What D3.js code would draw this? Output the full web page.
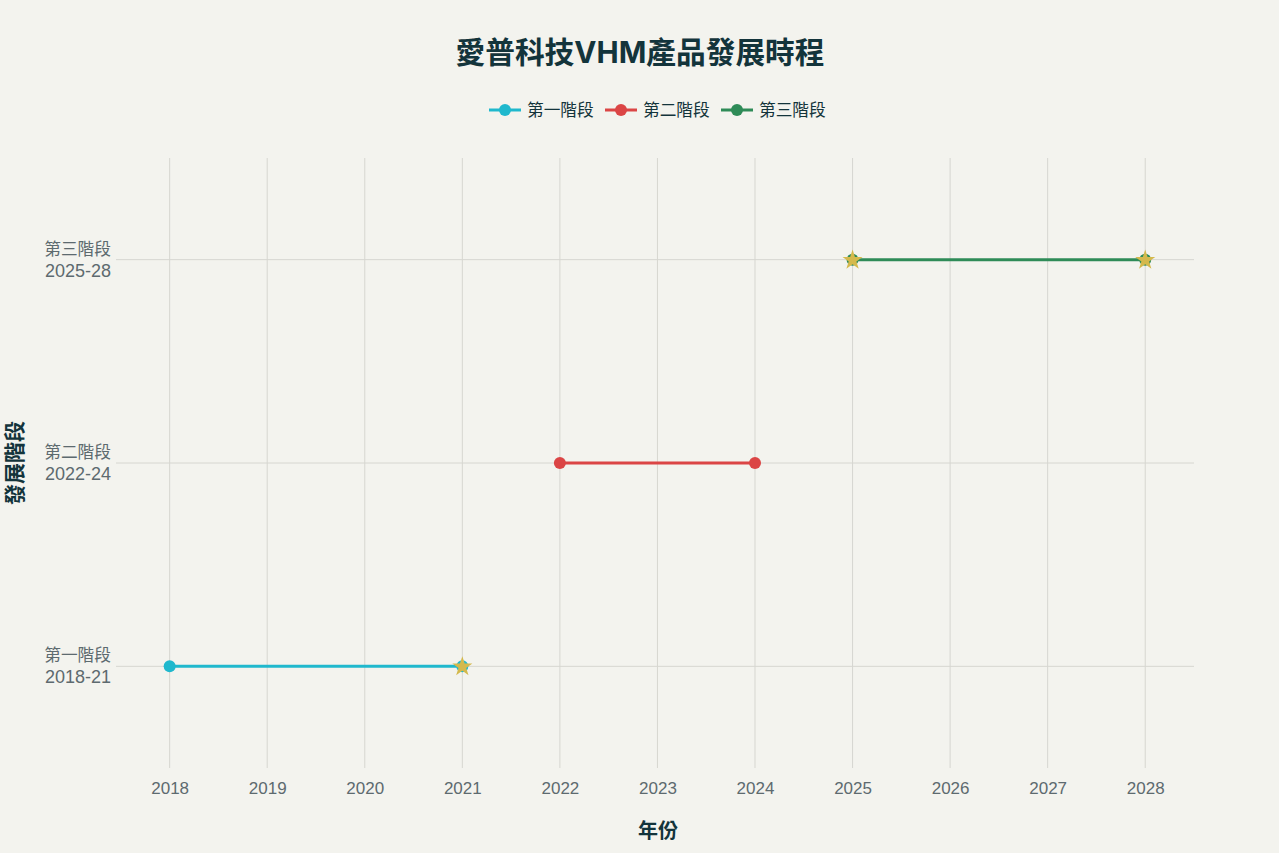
<!DOCTYPE html>
<html><head><meta charset="utf-8">
<script src="https://cdn.jsdelivr.net/npm/d3@7"></script>
<style>
body{margin:0;background:#F3F3EE;}
svg{display:block;font-family:"Liberation Sans","Noto Sans CJK TC","Noto Sans",sans-serif;}
</style></head><body>
<svg id="c" width="1279" height="853"></svg>
<script>
const stages = ["第一階段","第二階段","第三階段"];
const stageLabels = [["第一階段","2018-21"],["第二階段","2022-24"],["第三階段","2025-28"]];
const startYears = [2018, 2022, 2025];
const endYears = [2021, 2024, 2028];
const colors = ["#1FB8CD","#DB4545","#2E8B57"];
const starPoints = [[2021,0],[2025,2],[2028,2]];
const xTicks = [2018,2019,2020,2021,2022,2023,2024,2025,2026,2027,2028];

const svg = d3.select("#c");
const L=116,R=1194,T=158,B=768;
const x = d3.scaleLinear().domain([2017.45,2028.5]).range([L,R]);
const y = d3.scaleLinear().domain([-0.5,2.5]).range([B,T]);

// grid
svg.append("g").selectAll("line").data(xTicks).join("line")
  .attr("x1",d=>x(d)).attr("x2",d=>x(d)).attr("y1",T).attr("y2",B)
  .attr("stroke","#d6d6d0").attr("stroke-width",1);
svg.append("g").selectAll("line").data(stages).join("line")
  .attr("x1",L).attr("x2",R).attr("y1",(d,i)=>y(i)).attr("y2",(d,i)=>y(i))
  .attr("stroke","#d6d6d0").attr("stroke-width",1);

// x axis labels
const xa = svg.append("g").attr("transform",`translate(0,${B})`)
  .call(d3.axisBottom(x).tickValues(xTicks).tickFormat(d3.format("d")).tickSize(0).tickPadding(14));
xa.select(".domain").remove();
xa.selectAll("text").attr("fill","#5d6a6f").style("font-size","17px").style("font-family","'Liberation Sans','Noto Sans CJK TC',sans-serif");

// y labels
const yl = svg.append("g");
stageLabels.forEach((lab,i)=>{
  const t = yl.append("text").attr("text-anchor","end").attr("fill","#5d6a6f");
  t.append("tspan").attr("x",111).attr("y",y(i)-5).style("font-size","16.7px").text(lab[0]);
  t.append("tspan").attr("x",111).attr("y",y(i)+17).style("font-size","18px").text(lab[1]);
});

// lines
stages.forEach((s,i)=>{
  svg.append("line").attr("x1",x(startYears[i])).attr("x2",x(endYears[i]))
    .attr("y1",y(i)).attr("y2",y(i)).attr("stroke",colors[i]).attr("stroke-width",3);
  [startYears[i],endYears[i]].forEach(v=>{
    svg.append("circle").attr("cx",x(v)).attr("cy",y(i)).attr("r",6).attr("fill",colors[i]);
  });
});
// stars
const star = d3.symbol().type(d3.symbolStar).size(125);
svg.append("g").selectAll("path").data(starPoints).join("path")
  .attr("d",star).attr("transform",d=>`translate(${x(d[0])},${y(d[1])+0.5})`)
  .attr("fill","#D4B94C");

// title
svg.append("text").attr("x",640).attr("y",63).attr("text-anchor","middle")
  .attr("fill","#13343B").style("font-size","29.7px").style("font-weight","bold")
  .style("font-family","Inter,'Noto Sans CJK TC',sans-serif").text("愛普科技VHM產品發展時程");

// legend
const lg = svg.append("g");
let lx = 489;
const widths=[116,116,116];
stages.forEach((s,i)=>{
  const g = lg.append("g").attr("transform",`translate(${lx},110)`);
  g.append("line").attr("x1",0).attr("x2",32).attr("stroke",colors[i]).attr("stroke-width",3);
  g.append("circle").attr("cx",16).attr("r",6).attr("fill",colors[i]);
  g.append("text").attr("x",38).attr("y",6).attr("fill","#13343B").style("font-size","16.7px").text(s);
  lx += widths[i];
});

// axis titles
svg.append("text").attr("x",658).attr("y",838).attr("text-anchor","middle")
  .attr("fill","#13343B").style("font-size","20px").style("font-weight","bold").text("年份");
svg.append("text").attr("transform","translate(22,463) rotate(-90)").attr("text-anchor","middle")
  .attr("fill","#13343B").style("font-size","21px").style("font-weight","bold").text("發展階段");
</script>
</body></html>
